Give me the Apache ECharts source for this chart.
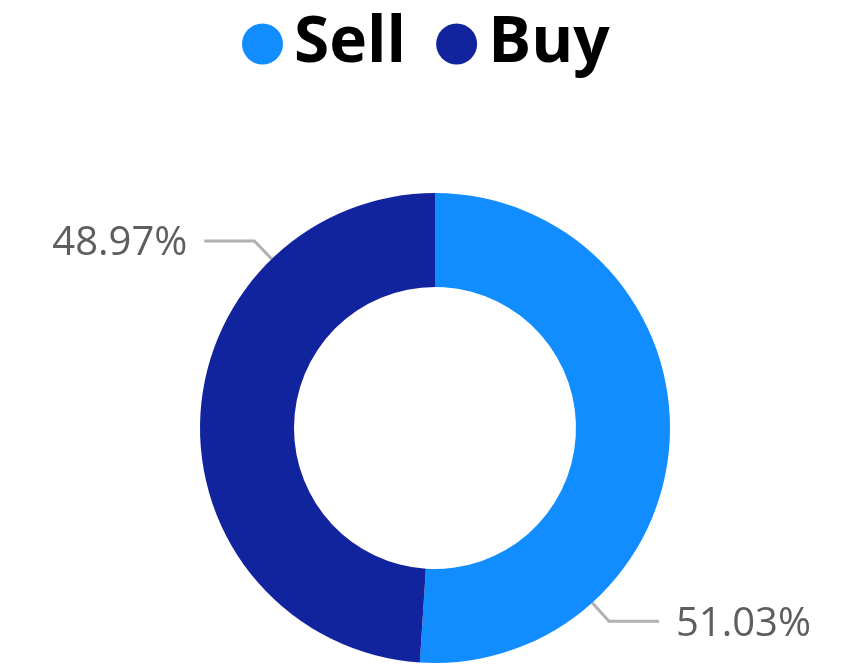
<!DOCTYPE html>
<html>
<head>
<meta charset="utf-8">
<style>
  html, body { margin: 0; padding: 0; background: #fff; }
  #chart { width: 847px; height: 664px; }
</style>
<script src="https://cdn.jsdelivr.net/npm/echarts@6/dist/echarts.min.js"></script>
</head>
<body>
<div id="chart"></div>
<script>
// Share of orders by side
const categories = ['Sell', 'Buy'];
const shares = [51.03, 48.97];
const colors = ['#118DFF', '#12239E'];

// Ring geometry and where each callout leaves the ring (degrees, counter-clockwise from 3 o'clock)
const CENTER = [435, 428];
const OUTER = 235;
const INNER = 141;
const calloutAngles = [-48, 134];
const ELBOW = 25;   // radial leg of the leader line
const LEG = 50;     // horizontal leg of the leader line
const GAP = 17;     // space between leader line and text

const chart = echarts.init(document.getElementById('chart'));

function callout(params) {
  const i = params.dataIndex;
  const a = calloutAngles[i] * Math.PI / 180;
  const dx = Math.cos(a), dy = -Math.sin(a);
  const p0 = [CENTER[0] + OUTER * dx, CENTER[1] + OUTER * dy];
  const p1 = [CENTER[0] + (OUTER + ELBOW) * dx, CENTER[1] + (OUTER + ELBOW) * dy];
  const side = dx >= 0 ? 1 : -1;
  const p2 = [p1[0] + side * LEG, p1[1]];
  return {
    x: p2[0] + side * GAP,
    y: p2[1] + 3,
    align: side > 0 ? 'left' : 'right',
    verticalAlign: 'middle',
    labelLinePoints: [p0, p1, p2]
  };
}

chart.setOption({
  animation: false,
  color: colors,
  legend: {
    data: categories,
    top: 7,
    left: 237,
    icon: 'circle',
    itemWidth: 41,
    itemHeight: 41,
    itemGap: 30,
    textStyle: {
      fontFamily: 'Open Sans',
      fontWeight: 'bold',
      fontSize: 64,
      color: '#000',
      padding: [0, 0, 0, 6]
    }
  },
  series: [{
    type: 'pie',
    center: CENTER,
    radius: [INNER, OUTER],
    startAngle: 90,
    clockwise: true,
    avoidLabelOverlap: false,
    data: categories.map((name, i) => ({ name, value: shares[i] })),
    label: {
      show: true,
      position: 'outside',
      formatter: p => p.value.toFixed(2) + '%',
      fontFamily: 'Open Sans',
      fontSize: 40,
      color: '#605E5C'
    },
    labelLine: {
      show: true,
      lineStyle: { color: '#B3B0AD', width: 3 }
    },
    labelLayout: callout
  }]
});
</script>
</body>
</html>
